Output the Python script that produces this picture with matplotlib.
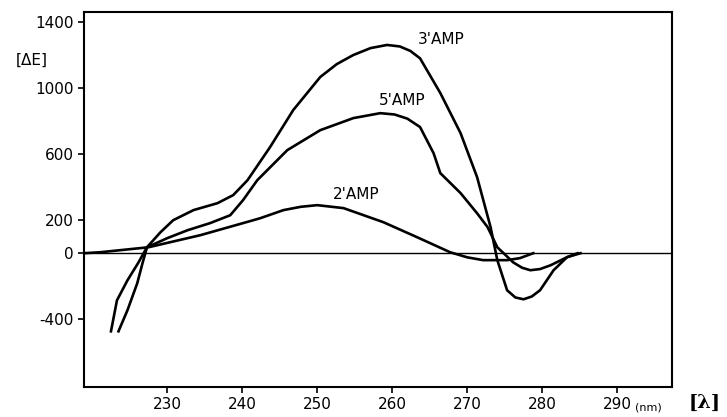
import numpy as np
import matplotlib.pyplot as plt

plt.rcParams['axes.unicode_minus'] = False

# wavelength (nm) and delta E for each curve
wl_3 = [222.5, 223.3, 224.7, 226.1, 227.3, 229.1, 230.8, 233.5, 236.7, 238.8, 240.7,
        243.7, 246.8, 250.4, 252.6, 254.8, 257.1, 259.3, 261.0, 262.4, 263.7, 266.4,
        269.1, 271.3, 273.1, 274.0, 275.3, 276.4, 277.5, 278.6, 279.7, 281.5, 283.3, 285.1]
de_3 = [-473, -285, -164, -61, 36, 127, 200, 261, 303, 352, 442,
        642, 867, 1067, 1145, 1200, 1242, 1261, 1252, 1225, 1180, 970,
        727, 461, 158, -42, -224, -268, -279, -262, -224, -103, -24, 0]

wl_5 = [223.5, 224.7, 226.0, 226.7, 227.3, 230.0, 232.7, 235.7, 238.4, 240.1, 242.0,
        246.0, 250.4, 254.8, 258.4, 260.3, 262.0, 263.7, 265.5, 266.4, 269.1, 271.3,
        272.7, 274.0, 275.3, 276.1, 277.3, 278.4, 279.7, 281.1, 283.3, 284.7]
de_5 = [-473, -345, -182, -61, 36, 91, 139, 182, 230, 321, 442,
        624, 745, 818, 848, 840, 815, 764, 606, 485, 364, 242,
        158, 36, -20, -55, -88, -103, -96, -73, -24, 0]

wl_2 = [218.9, 221.1, 227.5, 234.4, 241.1, 242.4, 245.5, 247.8, 250.0, 253.5, 258.8,
        263.3, 267.7, 270.0, 272.1, 275.3, 277.0, 278.8]
de_2 = [0, 6, 36, 109, 195, 212, 261, 281, 291, 273, 188,
        97, 6, -25, -42, -42, -30, 0]

yticks = [-400, 0, 200, 600, 1000, 1400]
xticks = [230, 240, 250, 260, 270, 280, 290]

fig = plt.figure(figsize=(7.27, 4.17), dpi=100)
ax = fig.add_axes([0.1155, 0.072, 0.809, 0.899])

ax.axhline(0, color='black', lw=1.0)
ax.plot(wl_3, de_3, color='black', lw=1.9)
ax.plot(wl_5, de_5, color='black', lw=1.9)
ax.plot(wl_2, de_2, color='black', lw=1.9)

ax.text(266.5, 1294, "3'AMP", fontsize=11, ha='center', va='center')
ax.text(261.3, 927, "5'AMP", fontsize=11, ha='center', va='center')
ax.text(255.2, 358, "2'AMP", fontsize=11, ha='center', va='center')

ax.set_xlim(218.9, 297.3)
ax.set_ylim(-810, 1460)
ax.set_xticks(xticks)
ax.set_yticks(yticks)
ax.tick_params(direction='out', length=4, width=1.2, labelsize=11)
for s in ax.spines.values():
    s.set_linewidth(1.5)

fig.text(32 / 727, 1 - 60 / 417, '[ΔE]', fontsize=11, ha='center', va='center')
fig.text(648 / 727, 1 - 407 / 417, '(nm)', fontsize=8, ha='center', va='center')
fig.text(705 / 727, 1 - 403 / 417, '[λ]', fontsize=14, ha='center', va='center',
         family='DejaVu Serif', fontweight='bold')

fig.savefig('out.png', dpi=100)
